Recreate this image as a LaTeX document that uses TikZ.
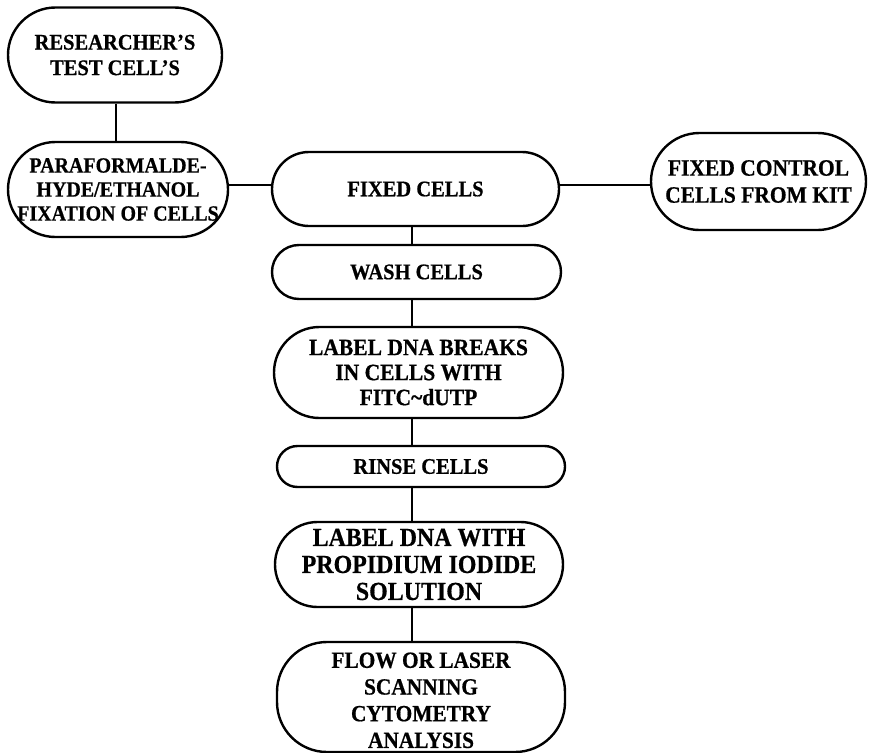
\documentclass[tikz,border=0pt]{standalone}
\usepackage{fontspec}
\setmainfont{Liberation Serif}[BoldFeatures={FakeStretch=0.92,FakeBold=0.6}]
\begin{document}
\begin{tikzpicture}[x=1bp,y=-1bp,
  box/.style={draw, line width=2.4bp, shape=rectangle, inner sep=0pt, align=center,
    font=\bfseries\fontsize{22.3bp}{25.5bp}\selectfont},
  link/.style={line width=2.4bp}]
\useasboundingbox (0,0) rectangle (869,753);
\node[box, minimum width=214bp, minimum height=95bp, rounded corners=47.5bp] (res) at (115,55) {RESEARCHER’S\\TEST CELL’S};
\node[box, minimum width=220bp, minimum height=95bp, rounded corners=47.5bp, font=\bfseries\fontsize{21.7bp}{24bp}\selectfont] (para) at (118,189.5) {PARAFORMALDE-\\HYDE/ETHANOL\\FIXATION OF CELLS};
\node[box, minimum width=287bp, minimum height=74bp, rounded corners=37bp] (fixed) at (415.5,189) {FIXED CELLS};
\node[box, minimum width=215bp, minimum height=97bp, rounded corners=48.5bp, font=\bfseries\fontsize{23.4bp}{27bp}\selectfont] (control) at (758.5,181.5) {FIXED CONTROL\\CELLS FROM KIT};
\node[box, minimum width=289bp, minimum height=54bp, rounded corners=27bp] (wash) at (416.5,272) {WASH CELLS};
\node[box, minimum width=289bp, minimum height=91bp, rounded corners=45.5bp, font=\bfseries\fontsize{23.4bp}{25bp}\selectfont] (breaks) at (418.5,372.5) {LABEL DNA BREAKS\\IN CELLS WITH\\FITC\textasciitilde dUTP};
\node[box, minimum width=288bp, minimum height=41bp, rounded corners=20.5bp] (rinse) at (421,466.5) {RINSE CELLS};
\node[box, minimum width=288bp, minimum height=85bp, rounded corners=42.5bp, font=\bfseries\fontsize{26bp}{27bp}\selectfont] (pi) at (419,564.5) {LABEL DNA WITH\\PROPIDIUM IODIDE\\SOLUTION};
\node[box, minimum width=288bp, minimum height=110bp, rounded corners=50bp, font=\bfseries\fontsize{23.2bp}{26.7bp}\selectfont] (flow) at (421,697) {\rule{0pt}{22bp}FLOW OR LASER\\SCANNING\\CYTOMETRY\\ANALYSIS};
\coordinate (spine) at (412,0);
\coordinate (lefts) at (116,0);
\draw[link] (res.south -| lefts) -- (para.north -| lefts);
\draw[link] (para.east |- 0,185) -- (fixed.west |- 0,185);
\draw[link] (fixed.east |- 0,185) -- (control.west |- 0,185);
\draw[link] (fixed.south -| spine) -- (wash.north -| spine);
\draw[link] (wash.south -| spine) -- (breaks.north -| spine);
\draw[link] (breaks.south -| spine) -- (rinse.north -| spine);
\draw[link] (rinse.south -| spine) -- (pi.north -| spine);
\draw[link] (pi.south -| spine) -- (flow.north -| spine);
\end{tikzpicture}
\end{document}
